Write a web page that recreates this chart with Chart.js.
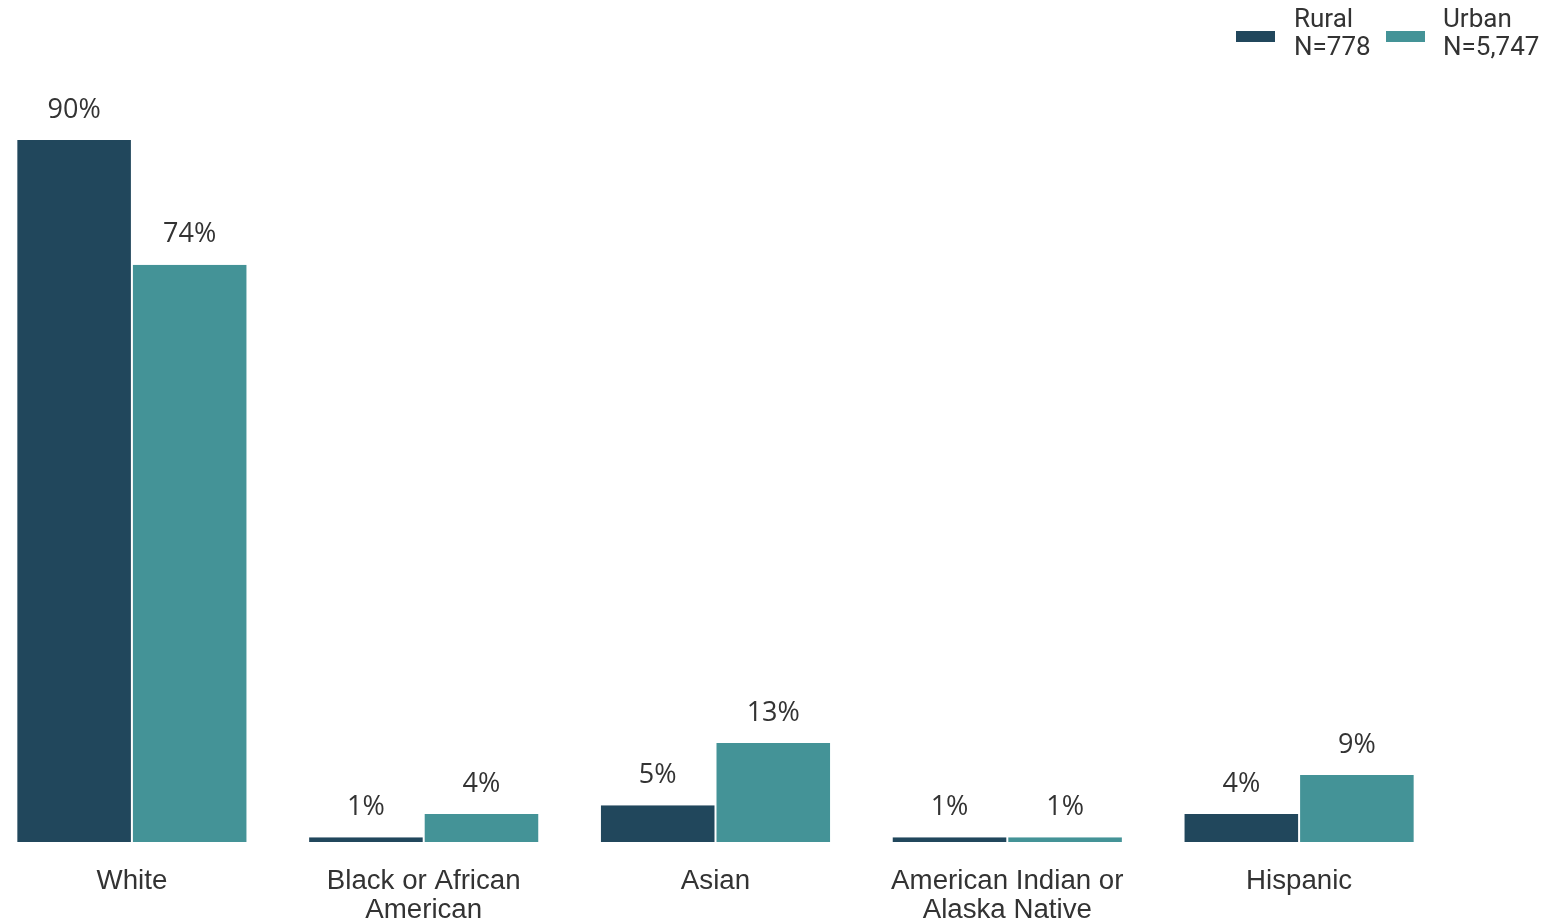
<!DOCTYPE html>
<html>
<head>
<meta charset="utf-8">
<script src="https://cdn.jsdelivr.net/npm/chart.js@4/dist/chart.umd.min.js"></script>
<style>
  html, body { margin: 0; padding: 0; background: #fff; overflow: hidden; }
  #wrap { position: absolute; left: -14px; top: 0; width: 1564px; height: 924px; }
  .lg { position: absolute; top: 4px; font-family: Roboto, sans-serif; font-size: 26px; line-height: 28px; color: #333; }
  .sw { position: absolute; top: 31px; width: 39px; height: 11px; }
</style>
</head>
<body>
<div id="wrap"><canvas id="chart"></canvas></div>
<div class="sw" style="left:1236px;background:#21475c"></div>
<div class="lg" style="left:1294px">Rural<br>N=778</div>
<div class="sw" style="left:1386px;background:#449397"></div>
<div class="lg" style="left:1443px">Urban<br>N=5,747</div>
<script>
// ── DATOS ──
var categorias = [['White'], ['Black or African', 'American'], ['Asian'], ['American Indian or', 'Alaska Native'], ['Hispanic']];
var rural = [90, 0.6, 4.7, 0.6, 3.6];
var urbano = [74, 3.6, 12.7, 0.6, 8.6];
var etiquetasRural = ['90%', '1%', '5%', '1%', '4%'];
var etiquetasUrbano = ['74%', '4%', '13%', '1%', '9%'];

var colorRural = '#21475c';
var colorUrbano = '#449397';

// etiquetas de valor encima de cada barra
var pluginEtiquetas = {
  id: 'etiquetas',
  afterDatasetsDraw: function(chart) {
    var ctx = chart.ctx;
    var textos = [etiquetasRural, etiquetasUrbano];
    ctx.save();
    ctx.font = '27px "Open Sans", sans-serif';
    ctx.fillStyle = '#333333';
    ctx.textAlign = 'center';
    ctx.textBaseline = 'middle';
    chart.data.datasets.forEach(function(ds, di) {
      chart.getDatasetMeta(di).data.forEach(function(bar, i) {
        ctx.fillText(textos[di][i], bar.x, bar.y - 30);
      });
    });
    ctx.restore();
  }
};

new Chart(document.getElementById('chart'), {
  type: 'bar',
  data: {
    labels: categorias,
    datasets: [
      { label: 'Rural', data: rural, backgroundColor: colorRural, borderColor: '#ffffff',
        borderWidth: {left: 1, right: 1, top: 0, bottom: 0} },
      { label: 'Urban', data: urbano, backgroundColor: colorUrbano, borderColor: '#ffffff',
        borderWidth: {left: 1, right: 1, top: 0, bottom: 0} }
    ]
  },
  options: {
    responsive: true,
    maintainAspectRatio: false,
    animation: false,
    categoryPercentage: 0.792,
    barPercentage: 1,
    layout: { padding: { top: 62, right: 105, left: 0, bottom: 0 } },
    plugins: { legend: { display: false }, tooltip: { enabled: false } },
    scales: {
      x: {
        grid: { display: false },
        border: { display: false },
        ticks: { color: '#333333', padding: 17, maxRotation: 0, autoSkip: false,
                 font: { family: '"Liberation Sans", Arial, sans-serif', size: 27.7, lineHeight: 1.05 } },
        afterFit: function(s) { s.height = 82; }
      },
      y: { display: false, min: 0, max: 100 }
    }
  },
  plugins: [pluginEtiquetas]
});
</script>
</body>
</html>
